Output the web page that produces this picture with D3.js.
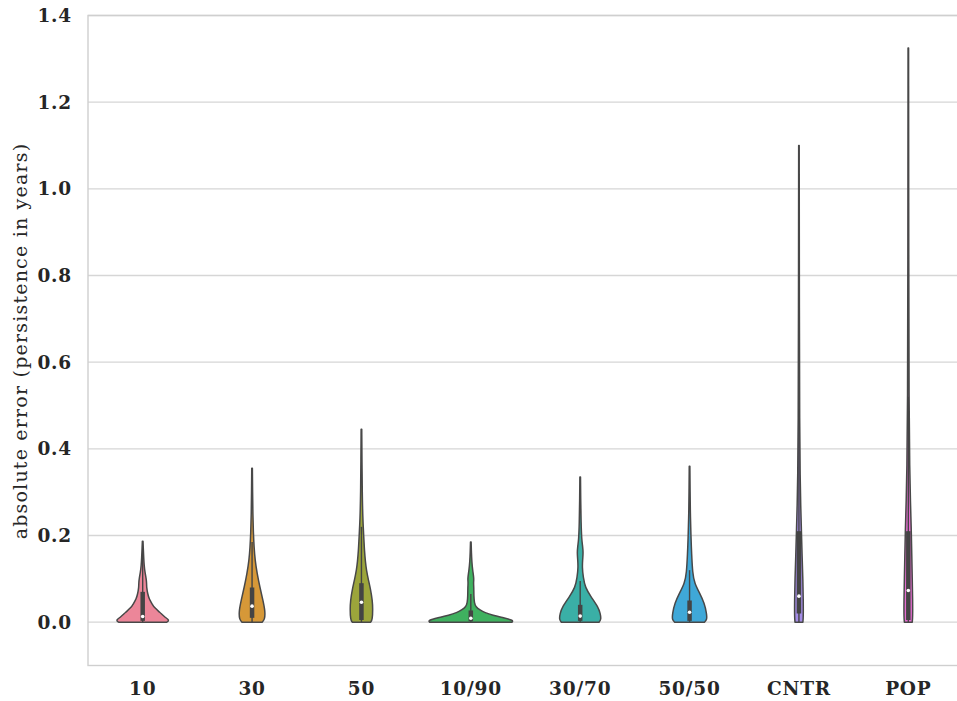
<!DOCTYPE html>
<html>
<head>
<meta charset="utf-8">
<script src="https://cdn.jsdelivr.net/npm/d3@7"></script>
<style>
  html, body { margin: 0; padding: 0; background: #fff; }
  svg { display: block; }
</style>
</head>
<body>
<div id="chart"></div>
<script>
// categories along x
const categories = ['10', '30', '50', '10/90', '30/70', '50/50', 'CNTR', 'POP'];

// y ticks
const yTicks = [0.0, 0.2, 0.4, 0.6, 0.8, 1.0, 1.2, 1.4];

// density profiles: [value, relative density]
const dens10 = [[0, 0.55], [0.004, 0.62], [0.012, 0.5], [0.023, 0.39], [0.033, 0.27], [0.043, 0.21], [0.053, 0.15], [0.065, 0.115], [0.08, 0.09], [0.09, 0.09], [0.1, 0.08], [0.115, 0.053], [0.13, 0.034], [0.15, 0.023], [0.17, 0.014], [0.187, 0.007]];
const dens30 = [[0, 0.23], [0.006, 0.29], [0.025, 0.3], [0.05, 0.25], [0.08, 0.18], [0.113, 0.114], [0.143, 0.069], [0.173, 0.046], [0.205, 0.03], [0.25, 0.018], [0.3, 0.012], [0.355, 0.007]];
const dens50 = [[0, 0.21], [0.006, 0.25], [0.03, 0.26], [0.05, 0.25], [0.075, 0.21], [0.097, 0.16], [0.12, 0.114], [0.14, 0.09], [0.165, 0.069], [0.19, 0.057], [0.235, 0.032], [0.3, 0.018], [0.37, 0.012], [0.445, 0.007]];
const dens1090 = [[0, 0.94], [0.004, 0.98], [0.01, 0.75], [0.016, 0.5], [0.022, 0.32], [0.028, 0.21], [0.035, 0.114], [0.045, 0.08], [0.06, 0.069], [0.08, 0.069], [0.092, 0.06], [0.1, 0.073], [0.12, 0.041], [0.14, 0.023], [0.16, 0.014], [0.185, 0.007]];
const dens3070 = [[0, 0.43], [0.006, 0.48], [0.02, 0.46], [0.035, 0.41], [0.058, 0.25], [0.08, 0.114], [0.104, 0.069], [0.127, 0.046], [0.145, 0.057], [0.16, 0.069], [0.175, 0.057], [0.19, 0.034], [0.23, 0.02], [0.28, 0.012], [0.335, 0.007]];
const dens5050 = [[0, 0.34], [0.006, 0.4], [0.02, 0.39], [0.044, 0.34], [0.067, 0.23], [0.09, 0.114], [0.113, 0.069], [0.16, 0.046], [0.197, 0.032], [0.25, 0.018], [0.3, 0.012], [0.36, 0.007]];
const densCntr = [[0, 0.09], [0.01, 0.1], [0.05, 0.1], [0.1, 0.09], [0.15, 0.073], [0.21, 0.057], [0.27, 0.04], [0.33, 0.028], [0.45, 0.016], [0.7, 0.01], [1.1, 0.006]];
const densPop = [[0, 0.09], [0.01, 0.1], [0.05, 0.1], [0.1, 0.09], [0.15, 0.08], [0.21, 0.069], [0.28, 0.048], [0.35, 0.032], [0.5, 0.016], [0.8, 0.01], [1.325, 0.006]];
const densities = [dens10, dens30, dens50, dens1090, dens3070, dens5050, densCntr, densPop];

// inner box stats
const q1Values = [0.003, 0.01, 0.005, 0.002, 0.003, 0.003, 0.02, 0.005];
const medianValues = [0.013, 0.037, 0.046, 0.009, 0.014, 0.023, 0.06, 0.073];
const q3Values = [0.07, 0.08, 0.09, 0.027, 0.04, 0.05, 0.21, 0.21];
const whiskerHigh = [0.17, 0.185, 0.22, 0.065, 0.095, 0.12, 0.49, 0.52];

const palette = ['#ec8699', '#d69838', '#9ca53b', '#3fb15f', '#3aafa6', '#3fa8d8', '#a48ce6', '#e46ccf'];

const W = 957, H = 701;
const margin = { top: 15.5, left: 88, right: -6, bottom: 35.5 };

const svg = d3.select('#chart').append('svg')
  .attr('width', W)
  .attr('height', H);

const x = d3.scaleBand()
  .domain(categories)
  .range([margin.left, W - margin.right])
  .padding(0);

const y = d3.scaleLinear()
  .domain([-0.1, 1.4])
  .range([H - margin.bottom, margin.top]);

const w = d3.scaleLinear()
  .domain([0, 1])
  .range([0, x.bandwidth() * 0.4]);

const serif = '"DejaVu Serif", "Liberation Serif", serif';

// grid
svg.append('g')
  .selectAll('line')
  .data(yTicks)
  .join('line')
  .attr('x1', margin.left)
  .attr('x2', W - margin.right)
  .attr('y1', d => y(d))
  .attr('y2', d => y(d))
  .attr('stroke', '#d6d6d6')
  .attr('stroke-width', 1.4);

// frame
svg.append('rect')
  .attr('x', margin.left)
  .attr('y', margin.top)
  .attr('width', W - margin.right - margin.left)
  .attr('height', H - margin.bottom - margin.top)
  .attr('fill', 'none')
  .attr('stroke', '#cfcfcf')
  .attr('stroke-width', 1.4);

// violins
const violins = svg.append('g');
categories.forEach((cat, i) => {
  const cx = x(cat) + x.bandwidth() / 2;
  const area = d3.area()
    .x0(d => cx - w(d[1]))
    .x1(d => cx + w(d[1]))
    .y(d => y(d[0]))
    .curve(d3.curveBasis);
  violins.append('path')
    .datum(densities[i])
    .attr('d', area)
    .attr('fill', palette[i])
    .attr('stroke', '#484848')
    .attr('stroke-width', 1.5)
    .attr('stroke-linejoin', 'round');
  // whisker
  violins.append('line')
    .attr('x1', cx).attr('x2', cx)
    .attr('y1', y(0)).attr('y2', y(whiskerHigh[i]))
    .attr('stroke', '#444')
    .attr('stroke-width', 1.4);
  // box
  violins.append('line')
    .attr('x1', cx).attr('x2', cx)
    .attr('y1', y(q1Values[i])).attr('y2', y(q3Values[i]))
    .attr('stroke', '#444')
    .attr('stroke-width', 4.5);
  // median
  violins.append('circle')
    .attr('cx', cx)
    .attr('cy', y(medianValues[i]))
    .attr('r', 1.8)
    .attr('fill', '#fff');
});

// y tick labels
svg.append('g')
  .selectAll('text')
  .data(yTicks)
  .join('text')
  .attr('x', 72)
  .attr('y', d => y(d))
  .attr('dy', '0.36em')
  .attr('text-anchor', 'end')
  .attr('font-family', serif)
  .attr('font-weight', 'bold')
  .attr('font-size', 18.5)
  .attr('letter-spacing', 0.8)
  .attr('fill', '#262626')
  .text(d => d.toFixed(1));

// x tick labels
svg.append('g')
  .selectAll('text')
  .data(categories)
  .join('text')
  .attr('x', d => x(d) + x.bandwidth() / 2)
  .attr('y', 695)
  .attr('text-anchor', 'middle')
  .attr('font-family', serif)
  .attr('font-weight', 'bold')
  .attr('font-size', 18.5)
  .attr('letter-spacing', 0.8)
  .attr('fill', '#262626')
  .text(d => d);

// y axis label
svg.append('text')
  .attr('transform', 'translate(27,' + 341 + ') rotate(-90)')
  .attr('text-anchor', 'middle')
  .attr('font-family', serif)
  .attr('font-size', 19)
  .attr('letter-spacing', 1.2)
  .attr('fill', '#262626')
  .text('absolute error (persistence in years)');
</script>
</body>
</html>
